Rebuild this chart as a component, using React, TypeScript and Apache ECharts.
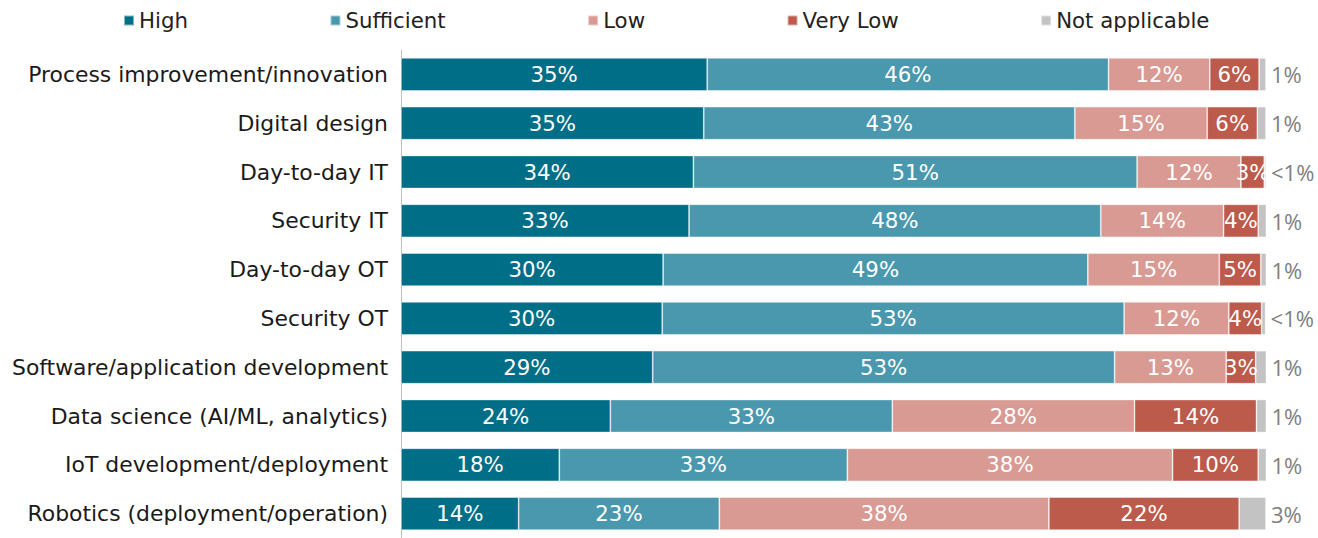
import React, { useEffect, useRef } from "react";
import * as echarts from "echarts";

const categories = [
  "Process improvement/innovation",
  "Digital design",
  "Day-to-day IT",
  "Security IT",
  "Day-to-day OT",
  "Security OT",
  "Software/application development",
  "Data science (AI/ML, analytics)",
  "IoT development/deployment",
  "Robotics (deployment/operation)",
];

const seriesNames = ["High", "Sufficient", "Low", "Very Low", "Not applicable"];

const high = [35.4, 35.0, 33.8, 33.3, 30.3, 30.2, 29.1, 24.2, 18.3, 13.6];
const sufficient = [46.4, 42.9, 51.3, 47.6, 49.1, 53.4, 53.4, 32.6, 33.3, 23.2];
const low = [11.7, 15.3, 12.0, 14.2, 15.2, 12.1, 12.9, 28.0, 37.6, 38.1];
const veryLow = [5.7, 5.8, 2.7, 4.0, 4.8, 3.8, 3.4, 14.1, 9.9, 22.0];
const notApplicable = [0.8, 1.0, 0.2, 1.0, 0.7, 0.45, 1.3, 1.2, 1.0, 3.1];

const colors = ["#006E87", "#4A98AD", "#D89A93", "#BC5A4C", "#C3C3C3"];

const FONT = "DejaVu Sans";
const FS = 21.3;

const fmt = (v: number) => {
  const r = Math.round(v);
  return r < 1 ? "<1%" : r + "%";
};

export default function App() {
  const ref = useRef<HTMLDivElement>(null);
  useEffect(() => {
    if (!ref.current) return;
    const chart = echarts.init(ref.current, null, { renderer: "svg" });
    const data = [high, sufficient, low, veryLow, notApplicable];
    chart.setOption({
      animation: false,
      textStyle: { fontFamily: FONT },
      legend: {
        top: 10,
        left: 123,
        padding: 0,
        icon: "rect",
        itemWidth: 10,
        itemHeight: 10,
        itemGap: 141.5,
        textStyle: { fontSize: FS, color: "#222", fontFamily: FONT },
        data: seriesNames,
      },
      grid: { left: 401, width: 865, top: 50, height: 492, containLabel: false },
      xAxis: {
        type: "value",
        min: 0,
        max: 100,
        show: false,
      },
      yAxis: {
        type: "category",
        data: categories,
        inverse: true,
        axisLine: { show: true, lineStyle: { color: "#BFBFBF", width: 1 } },
        axisTick: { show: false },
        axisLabel: { fontSize: 21.9, color: "#1a1a1a", margin: 13, fontFamily: FONT },
      },
      series: seriesNames.map((name, i) => ({
        name,
        type: "bar",
        stack: "total",
        barWidth: 33,
        data: data[i],
        itemStyle: {
          color: colors[i],
          borderColor: "rgba(255,255,255,0.5)",
          borderWidth: 0.8,
        },
        label: {
          show: true,
          position: i === 4 ? "right" : "inside",
          distance: 5,
          color: i === 4 ? "#7F7F7F" : "#ffffff",
          fontSize: i === 4 ? 22 : FS,
          fontFamily: i === 4 ? "Open Sans" : FONT,
          formatter: (p: any) => fmt(p.value),
        },
      })),
    });
    return () => chart.dispose();
  }, []);
  return <div ref={ref} style={{ width: 1318, height: 538, position: "absolute", left: 0, top: 0 }} />;
}
